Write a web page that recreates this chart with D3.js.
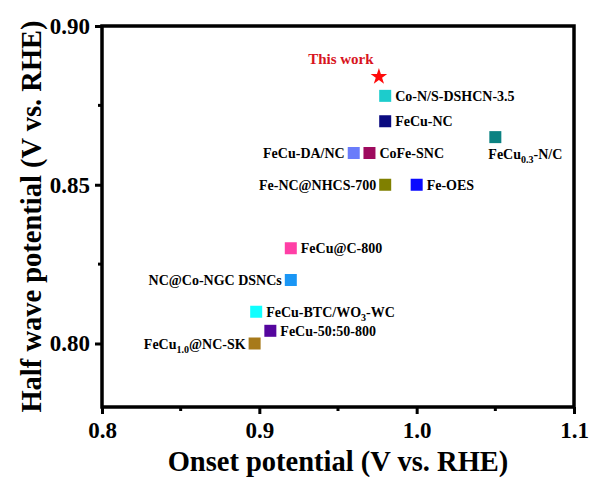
<!DOCTYPE html>
<html>
<head>
<meta charset="utf-8">
<script src="https://cdn.jsdelivr.net/npm/d3@7/dist/d3.min.js"></script>
<style>
  html, body { margin: 0; padding: 0; background: #fff; }
  svg { display: block; font-family: "Liberation Serif", "Times New Roman", serif; }
</style>
</head>
<body>
<svg id="chart" width="590" height="477"></svg>
<script>
// Catalyst comparison: onset potential vs half-wave potential (V vs. RHE)
const names = [
  "Co-N/S-DSHCN-3.5", "FeCu-NC", "FeCu|0.3|-N/C", "FeCu-DA/NC", "CoFe-SNC",
  "Fe-NC@NHCS-700", "Fe-OES", "FeCu@C-800", "NC@Co-NGC DSNCs",
  "FeCu-BTC/WO|3|-WC", "FeCu-50:50-800", "FeCu|1.0|@NC-SK"
];
const onset = [0.980, 0.980, 1.050, 0.960, 0.970, 0.980, 1.000, 0.920, 0.920, 0.898, 0.907, 0.897];
const halfWave = [0.878, 0.870, 0.865, 0.860, 0.860, 0.850, 0.850, 0.830, 0.820, 0.810, 0.804, 0.800];
const colors = [
  "#1ccccc", "#0b0b80", "#0b8282", "#6a7cfa", "#9e0a5e",
  "#808000", "#0a0aff", "#ff3fa6", "#1a96f5",
  "#10ffff", "#55069e", "#a77a1a"
];
const labelSide = ["right", "right", "below", "left", "right", "left", "right", "right", "left", "right", "right", "left"];

const thisWork = { name: "This work", onset: 0.976, halfWave: 0.884 };

const xTicks = [0.8, 0.9, 1.0, 1.1];
const xMinor = [0.85, 0.95, 1.05];
const yTicks = [0.80, 0.85, 0.90];
const yMinor = [0.825, 0.875];

const svg = d3.select("#chart");
const plotL = 102, plotR = 574, plotT = 26, plotB = 407;

const x = d3.scaleLinear().domain([0.8, 1.1]).range([plotL, plotR]);
const y = d3.scaleLinear().domain([0.78, 0.90]).range([plotB, plotT]);

// axes
const xAxis = d3.axisBottom(x).tickValues(xTicks).tickFormat(d3.format(".1f")).tickSize(7).tickPadding(8).tickSizeOuter(0);
const yAxis = d3.axisLeft(y).tickValues(yTicks).tickFormat(d3.format(".2f")).tickSize(7).tickPadding(5).tickSizeOuter(0);

const gx = svg.append("g").attr("transform", `translate(0,${plotB})`).call(xAxis);
const gy = svg.append("g").attr("transform", `translate(${plotL},0)`).call(yAxis);

[gx, gy].forEach(g => {
  g.select(".domain").remove();
  g.selectAll(".tick line").attr("stroke", "#000").attr("stroke-width", 3);
  g.selectAll(".tick text")
    .attr("fill", "#000")
    .attr("font-family", "Liberation Serif, Times New Roman, serif")
    .attr("font-weight", "bold")
    .attr("font-size", 23);
});

// minor ticks
svg.append("g").selectAll("line").data(xMinor).join("line")
  .attr("x1", d => x(d)).attr("x2", d => x(d))
  .attr("y1", plotB).attr("y2", plotB + 4)
  .attr("stroke", "#000").attr("stroke-width", 3);
svg.append("g").selectAll("line").data(yMinor).join("line")
  .attr("y1", d => y(d)).attr("y2", d => y(d))
  .attr("x1", plotL).attr("x2", plotL - 4)
  .attr("stroke", "#000").attr("stroke-width", 3);

// frame
svg.append("rect")
  .attr("x", plotL).attr("y", plotT)
  .attr("width", plotR - plotL).attr("height", plotB - plotT)
  .attr("fill", "none").attr("stroke", "#000").attr("stroke-width", 3.5);

// axis titles
svg.append("text")
  .attr("x", (plotL + plotR) / 2).attr("y", 471)
  .attr("text-anchor", "middle")
  .attr("font-weight", "bold").attr("font-size", 28.5)
  .text("Onset potential (V vs. RHE)");
svg.append("text")
  .attr("transform", `translate(41,${(plotT + plotB) / 2}) rotate(-90)`)
  .attr("text-anchor", "middle")
  .attr("font-weight", "bold").attr("font-size", 28.5)
  .text("Half wave potential (V vs. RHE)");

// markers
const sq = 12;
const pts = names.map((n, i) => ({ name: n, x: onset[i], y: halfWave[i], color: colors[i], side: labelSide[i] }));

svg.append("g").selectAll("rect").data(pts).join("rect")
  .attr("x", d => x(d.x) - sq / 2).attr("y", d => y(d.y) - sq / 2)
  .attr("width", sq).attr("height", sq)
  .attr("fill", d => d.color);

// labels with optional subscript segments marked by |...|
const lbl = svg.append("g").selectAll("text").data(pts).join("text")
  .attr("font-weight", "bold").attr("font-size", 14).attr("fill", "#000")
  .attr("x", d => d.side === "right" ? x(d.x) + 10 : d.side === "left" ? x(d.x) - 9 : x(d.x) - 7)
  .attr("y", d => d.side === "below" ? y(d.y) + 22 : y(d.y) + 5)
  .attr("text-anchor", d => d.side === "left" ? "end" : "start");

lbl.each(function(d) {
  const t = d3.select(this);
  d.name.split("|").forEach((part, k) => {
    if (!part) return;
    const sp = t.append("tspan").text(part);
    if (k % 2 === 1) {
      sp.attr("font-size", 10).attr("dy", 4);
    } else if (k > 0) {
      sp.attr("dy", -4);
    }
  });
});

// this work
svg.append("path")
  .attr("d", d3.symbol().type(d3.symbolStar).size(85)())
  .attr("transform", `translate(${x(thisWork.onset)},${y(thisWork.halfWave)})`)
  .attr("fill", "#ff0a0a");
svg.append("text")
  .attr("x", x(thisWork.onset) - 38).attr("y", y(thisWork.halfWave) - 13)
  .attr("text-anchor", "middle")
  .attr("font-weight", "bold").attr("font-size", 15).attr("fill", "#d8141e")
  .text(thisWork.name);
</script>
</body>
</html>
